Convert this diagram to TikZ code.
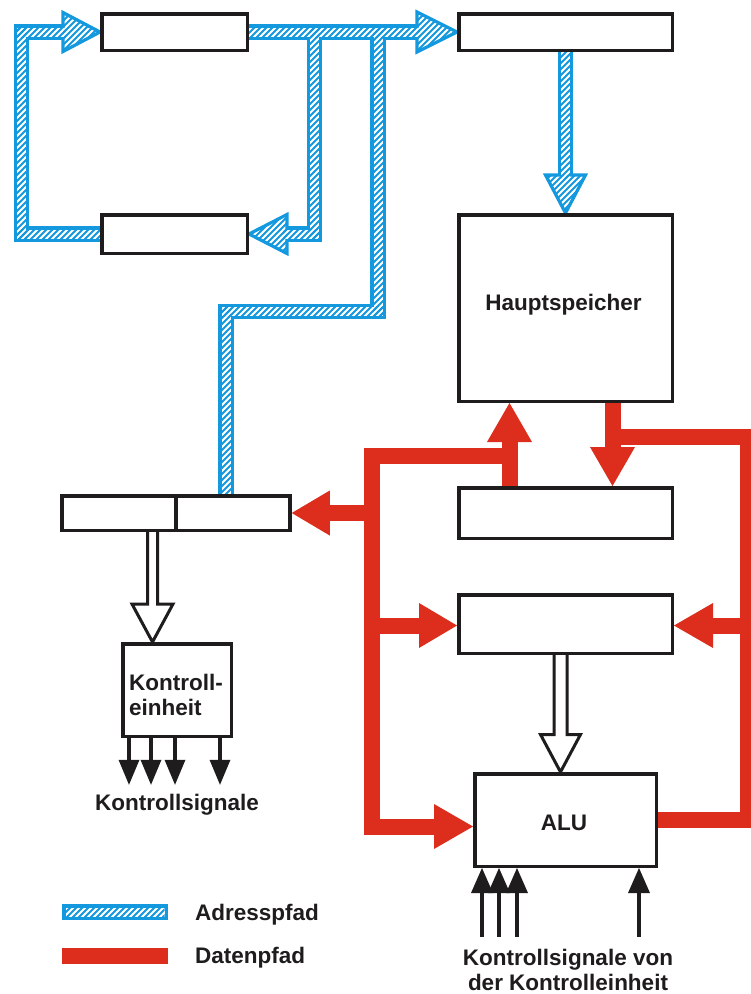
\documentclass[tikz,border=0pt]{standalone}
\usepackage{fontspec}
\setmainfont{Liberation Sans}
\usetikzlibrary{calc,backgrounds}
\definecolor{bblue}{RGB}{20,152,222}
\definecolor{dred}{RGB}{221,45,28}
\definecolor{ink}{RGB}{30,28,28}
% arrow head triangle: style, from, to, length, halfwidth
\newcommand\headtri[5]{%
  \coordinate (hT) at (#3);
  \coordinate (hB) at ($(#3)!#4!(#2)$);
  \path[#1] (hT) -- ($(hB)!#5!90:(hT)$) -- ($(hB)!#5!-90:(hT)$) -- cycle;}
% diagonal hatch lines over a box x1 y1 x2 y2 (on a global grid)
\newcommand\hatchlines[4]{%
  \pgfmathsetmacro\cS{6*floor((#1+#2)/6)}%
  \pgfmathsetmacro\cT{\cS+6}%
  \pgfmathsetmacro\cE{#3+#4+6}%
  \foreach \c in {\cS,\cT,...,\cE}{\draw[bblue, line width=1.9pt] ({\c-#4-3},{#4+3}) -- ({\c-#2+3},{#2-3});}}
\newcommand\hatchrect[4]{%
  \begin{scope}\clip (#1,#2) rectangle (#3,#4);\hatchlines{#1}{#2}{#3}{#4}\end{scope}}
% hatch inside an arrow head: from, to, length, halfwidth, bbox
\newcommand\hatchtri[8]{%
  \begin{scope}
  \coordinate (hT) at (#2);
  \coordinate (hB) at ($(#2)!#3!(#1)$);
  \clip (hT) -- ($(hB)!#4!90:(hT)$) -- ($(hB)!#4!-90:(hT)$) -- cycle;
  \hatchlines{#5}{#6}{#7}{#8}
  \end{scope}}
\begin{document}
\begin{tikzpicture}[x=1pt,y=-1pt,
  box/.style={draw=ink, line width=3.5pt, fill=white, inner sep=0pt},
  lbl/.style={font=\fontsize{22.5pt}{25pt}\selectfont\bfseries, text=ink, inner sep=0pt},
  bandout/.style={draw=bblue, line width=15.5pt, line join=miter},
  bandin/.style={draw=white, line width=9pt, line join=miter},
  bluehead/.style={draw=bblue, line width=3.2pt, fill=white, line join=miter},
  redband/.style={draw=dred, line width=16pt, line join=miter},
  redhead/.style={fill=dred},
  hollow/.style={draw=ink, line width=3pt, fill=white, line join=miter},
  sig/.style={draw=ink, line width=4pt},
  sighead/.style={fill=ink},
]
\useasboundingbox (0,0) rectangle (751,994);

% boxes
\node[box, minimum width=145.5pt, minimum height=36.5pt] (A) at (174.5,32) {};
\node[box, minimum width=145.5pt, minimum height=38.5pt] (B) at (174.5,234) {};
\node[box, minimum width=213.5pt, minimum height=36.5pt] (C) at (565.5,32) {};
\node[box, minimum width=213.5pt, minimum height=186.5pt] (Hs) at (565.5,308) {};
\node[box, minimum width=213.5pt, minimum height=50.5pt] (D) at (565.5,513) {};
\node[box, minimum width=213.5pt, minimum height=58.5pt] (E) at (565.5,624) {};
\node[box, minimum width=181.5pt, minimum height=92.5pt] (ALU) at (565.5,820) {};
\node[box, minimum width=114pt, minimum height=34.5pt] (R1) at (119,513) {};
\node[box, minimum width=114pt, minimum height=34.5pt] (R2) at (233,513) {};
\node[box, minimum width=108.5pt, minimum height=92.5pt] (K) at (177,690) {};

% labels
\node[lbl, anchor=base] (tHs) at (563.5,310) {Hauptspeicher};
\node[lbl, anchor=base] (tALU) at (564,830) {ALU};
\node[lbl, anchor=west, align=left] (tK) at (129,695) {Kontroll-\\einheit};
\node[lbl, anchor=base] (tKs) at (177,810) {Kontrollsignale};
\node[lbl, align=center] (tKv) at (568,970) {Kontrollsignale von\\der Kontrolleinheit};
\node[lbl, anchor=base west] (tAd) at (195,920) {Adresspfad};
\node[lbl, anchor=base west] (tDa) at (195,963) {Datenpfad};

\begin{scope}[on background layer]
\clip (0,0) rectangle (751,994);
% ---------- address paths (blue, hatched)
\coordinate (r2in) at ($(R2.north)+(-7,0)$);
\draw[bandout, shorten >=37pt] (B.west) -- (21.5,234) -- (21.5,32) -- (A.west);
\draw[bandout, shorten >=40pt] (A.east) -- (C.west);
\draw[bandout, shorten >=38pt] (314.5,32) -- (314.5,234) -- (B.east);
\draw[bandout] (378,32) -- (378,311.5) -- (226,311.5) -- (r2in);
\draw[bandout, shorten >=38pt] (C.south) -- (Hs.north);
\draw[bandout] (62,912) -- (168,912);

\headtri{bluehead}{21.5,32}{A.west}{37pt}{19.5pt}
\headtri{bluehead}{A.east}{C.west}{40pt}{20pt}
\headtri{bluehead}{314.5,234}{B.east}{38pt}{19.5pt}
\headtri{bluehead}{C.south}{Hs.north}{38pt}{20pt}

\draw[bandin, shorten >=34pt] (B.west) -- (21.5,234) -- (21.5,32) -- (A.west);
\draw[bandin, shorten >=37pt] (A.east) -- (C.west);
\draw[bandin, shorten >=35pt] (314.5,32) -- (314.5,234) -- (B.east);
\draw[bandin] (378,32) -- (378,311.5) -- (226,311.5) -- (r2in);
\draw[bandin, shorten >=35pt] (C.south) -- (Hs.north);
\draw[bandin] (65.5,912) -- (164.5,912);

\hatchrect{16.5}{27}{26.5}{239}
\hatchrect{16.5}{229}{102}{239}
\hatchrect{16.5}{27}{66}{37}
\hatchrect{247}{27}{420}{37}
\hatchrect{309.5}{27}{319.5}{239}
\hatchrect{283}{229}{319.5}{239}
\hatchrect{373}{27}{383}{316.5}
\hatchrect{221}{306.5}{383}{316.5}
\hatchrect{221}{306.5}{231}{496}
\hatchrect{560.5}{48}{570.5}{178}
\hatchrect{65.5}{907.5}{164.5}{916.5}
\hatchtri{21.5,32}{A.west}{37pt}{19.5pt}{60}{10}{105}{55}
\hatchtri{A.east}{C.west}{40pt}{20pt}{415}{8}{462}{56}
\hatchtri{314.5,234}{B.east}{38pt}{19.5pt}{243}{212}{290}{258}
\hatchtri{C.south}{Hs.north}{38pt}{20pt}{540}{172}{590}{218}

% ---------- data paths (red)
\coordinate (uS) at ($(D.north)+(-56,0)$);
\coordinate (uT) at ($(Hs.south)+(-56,0)$);
\draw[redband, shorten >=37pt] (uS) -- (uT);
\headtri{redhead}{uS}{uT}{39pt}{22.5pt}

\coordinate (tj) at (509.5,455.5);
\coordinate (tc) at (371.5,455.5);
\coordinate (tb) at (371.5,826.5);
\coordinate (aluIn) at (ALU.west |- tb);
\draw[redband, shorten >=37pt] (tj) -- (tc) -- (tb) -- (aluIn);
\headtri{redhead}{tb}{aluIn}{39pt}{22.5pt}

\coordinate (rj) at (371.5,513);
\draw[redband, shorten >=36pt] (rj) -- (R2.east);
\headtri{redhead}{rj}{R2.east}{38pt}{22.5pt}

\coordinate (ej) at (371.5,625.5);
\coordinate (eIn) at (E.west |- ej);
\draw[redband, shorten >=36pt] (ej) -- (eIn);
\headtri{redhead}{ej}{eIn}{38pt}{22.5pt}

\coordinate (dS) at ($(Hs.south)+(47,0)$);
\coordinate (dT) at ($(D.north)+(47,0)$);
\draw[redband, shorten >=37pt] (dS) -- (dT);
\headtri{redhead}{dS}{dT}{39pt}{22.5pt}

\coordinate (rc1) at (748,820);
\coordinate (rc2) at (748,436.5);
\coordinate (rj2) at (612.5,436.5);
\draw[redband] (ALU.east) -- (rc1) -- (rc2) -- (rj2);
\coordinate (ej2) at (748,625.5);
\coordinate (eIn2) at (E.east |- ej2);
\draw[redband, shorten >=37pt] (ej2) -- (eIn2);
\headtri{redhead}{ej2}{eIn2}{39pt}{22.5pt}

\draw[redband] (62,955.5) -- (168,955.5);

% ---------- hollow arrows
\coordinate (kT) at ($(K.north)+(-24.5,0)$);
\filldraw[hollow] ($(kT)+(-5,-116)$) -- ($(kT)+(-5,-38)$) -- ($(kT)+(-20.5,-38)$) -- (kT)
  -- ($(kT)+(20.5,-38)$) -- ($(kT)+(5,-38)$) -- ($(kT)+(5,-116)$);
\coordinate (aT) at ($(ALU.north)+(-5,0)$);
\filldraw[hollow] ($(aT)+(-6.5,-123)$) -- ($(aT)+(-6.5,-37.5)$) -- ($(aT)+(-20,-37.5)$) -- (aT)
  -- ($(aT)+(20,-37.5)$) -- ($(aT)+(6.5,-37.5)$) -- ($(aT)+(6.5,-123)$);

% ---------- control signals
\foreach \dx [count=\i] in {-48,-26,-2,43} {
  \coordinate (ks\i) at ($(K.south)+(\dx,0)$);
  \coordinate (ke\i) at ($(ks\i)+(0,46.75)$);
  \draw[sig, shorten >=22pt] (ks\i) -- (ke\i);
  \headtri{sighead}{ks\i}{ke\i}{25pt}{10.5pt}
}
\foreach \dx [count=\i] in {-83.5,-66.5,-48.5,73.5} {
  \coordinate (as\i) at ($(ALU.south)+(\dx,68.75)$);
  \coordinate (ae\i) at ($(ALU.south)+(\dx,0)$);
  \draw[sig, shorten >=21pt] (as\i) -- (ae\i);
  \headtri{sighead}{as\i}{ae\i}{25pt}{11pt}
}
\end{scope}
\end{tikzpicture}
\end{document}
